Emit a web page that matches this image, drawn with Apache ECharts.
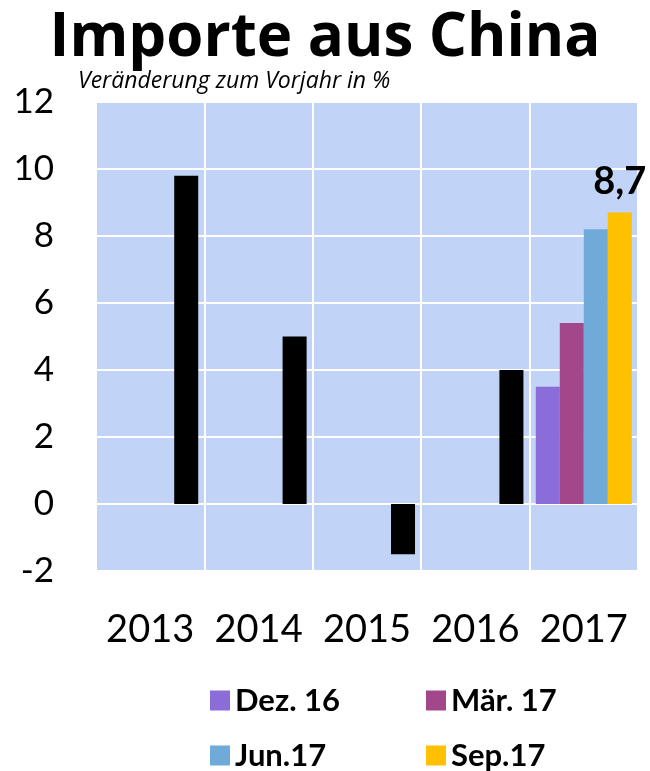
<!DOCTYPE html>
<html>
<head>
<meta charset="utf-8">
<script src="https://cdn.jsdelivr.net/npm/echarts@6/dist/echarts.min.js"></script>
<style>
  html, body { margin: 0; padding: 0; background: #fff; }
  #chart { width: 650px; height: 771px; }
</style>
</head>
<body>
<div id="chart"></div>
<script>
// Import growth from China, change vs. previous year in %
const years = ['2013', '2014', '2015', '2016', '2017'];
const yearly = [9.8, 5.0, -1.5, 4.0];      // annual values 2013–2016
const dez16 = 3.5;
const maer17 = 5.4;
const jun17 = 8.2;
const sep17 = 8.7;
const yTicks = { min: -2, max: 12, step: 2 };

const FONT = 'Lato, "Open Sans", sans-serif';
const WIDE = '"Open Sans", Lato, sans-serif';
const colors = { dez: '#8A6DD8', maer: '#A2478A', jun: '#70AAD8', sep: '#FFC000', year: '#000000' };

const blank = ['-', '-', '-', '-'];
const lastOnly = v => blank.concat([v]);
const deComma = v => String(v).replace('.', ',');

// last slot: annual black bars for 2013–2016, Sep.17 for 2017
const slot4 = yearly.map(v => ({ value: v, itemStyle: { color: colors.year } }))
  .concat([{ value: sep17, label: { show: true } }]);

const chart = echarts.init(document.getElementById('chart'), null, { renderer: 'canvas' });

const legendText = {
  fontFamily: FONT, fontWeight: 'bold', fontSize: 31, color: '#000',
  width: 175, lineHeight: 30
};

chart.setOption({
  backgroundColor: '#fff',
  animation: false,
  title: [
    {
      text: 'Importe aus China',
      left: 'center', top: 4,
      textStyle: { fontFamily: WIDE, fontWeight: 'bold', fontSize: 60, color: '#000' }
    },
    {
      text: 'Veränderung zum Vorjahr in %',
      left: 73, top: 65,
      textStyle: { fontFamily: WIDE, fontStyle: 'italic', fontWeight: 'normal', fontSize: 23, color: '#000' }
    }
  ],
  legend: [
    {
      data: ['Dez. 16', 'Mär. 17'],
      left: 205, top: 680,
      itemWidth: 20, itemHeight: 20, itemGap: 16, itemTextGap: 11,
      icon: 'rect', selectedMode: false,
      textStyle: legendText
    },
    {
      data: ['Jun.17', 'Sep.17'],
      left: 205, top: 735,
      itemWidth: 20, itemHeight: 20, itemGap: 16, itemTextGap: 11,
      icon: 'rect', selectedMode: false,
      textStyle: legendText
    }
  ],
  grid: {
    left: 96, right: 12, top: 102, bottom: 200,
    show: true, backgroundColor: '#C1D3F7', borderColor: '#E6EBF2', borderWidth: 1
  },
  xAxis: {
    type: 'category',
    data: years,
    axisLine: { show: false },
    axisTick: { show: false },
    splitLine: { show: true, interval: 0, lineStyle: { color: '#FFFFFF', width: 2 } },
    axisLabel: { interval: 0, fontFamily: FONT, fontSize: 38, color: '#000', margin: 40 }
  },
  yAxis: {
    type: 'value',
    min: yTicks.min, max: yTicks.max, interval: yTicks.step,
    axisLine: { show: false },
    axisTick: { show: false },
    splitLine: { show: true, lineStyle: { color: '#FFFFFF', width: 2 } },
    axisLabel: { fontFamily: FONT, fontSize: 35, color: '#000', margin: 42 }
  },
  series: [
    { name: 'Dez. 16', type: 'bar', data: lastOnly(dez16), itemStyle: { color: colors.dez }, barGap: '0%', barCategoryGap: '11.4%' },
    { name: 'Mär. 17', type: 'bar', data: lastOnly(maer17), itemStyle: { color: colors.maer }, barGap: '0%', barCategoryGap: '11.4%' },
    { name: 'Jun.17', type: 'bar', data: lastOnly(jun17), itemStyle: { color: colors.jun }, barGap: '0%', barCategoryGap: '11.4%' },
    {
      name: 'Sep.17', type: 'bar', data: slot4,
      itemStyle: { color: colors.sep }, barGap: '0%', barCategoryGap: '11.4%',
      label: {
        show: false, position: 'top', distance: 12,
        fontFamily: FONT, fontWeight: 'bold', fontSize: 38, color: '#000',
        formatter: p => deComma(p.value)
      }
    }
  ]
});
</script>
</body>
</html>
